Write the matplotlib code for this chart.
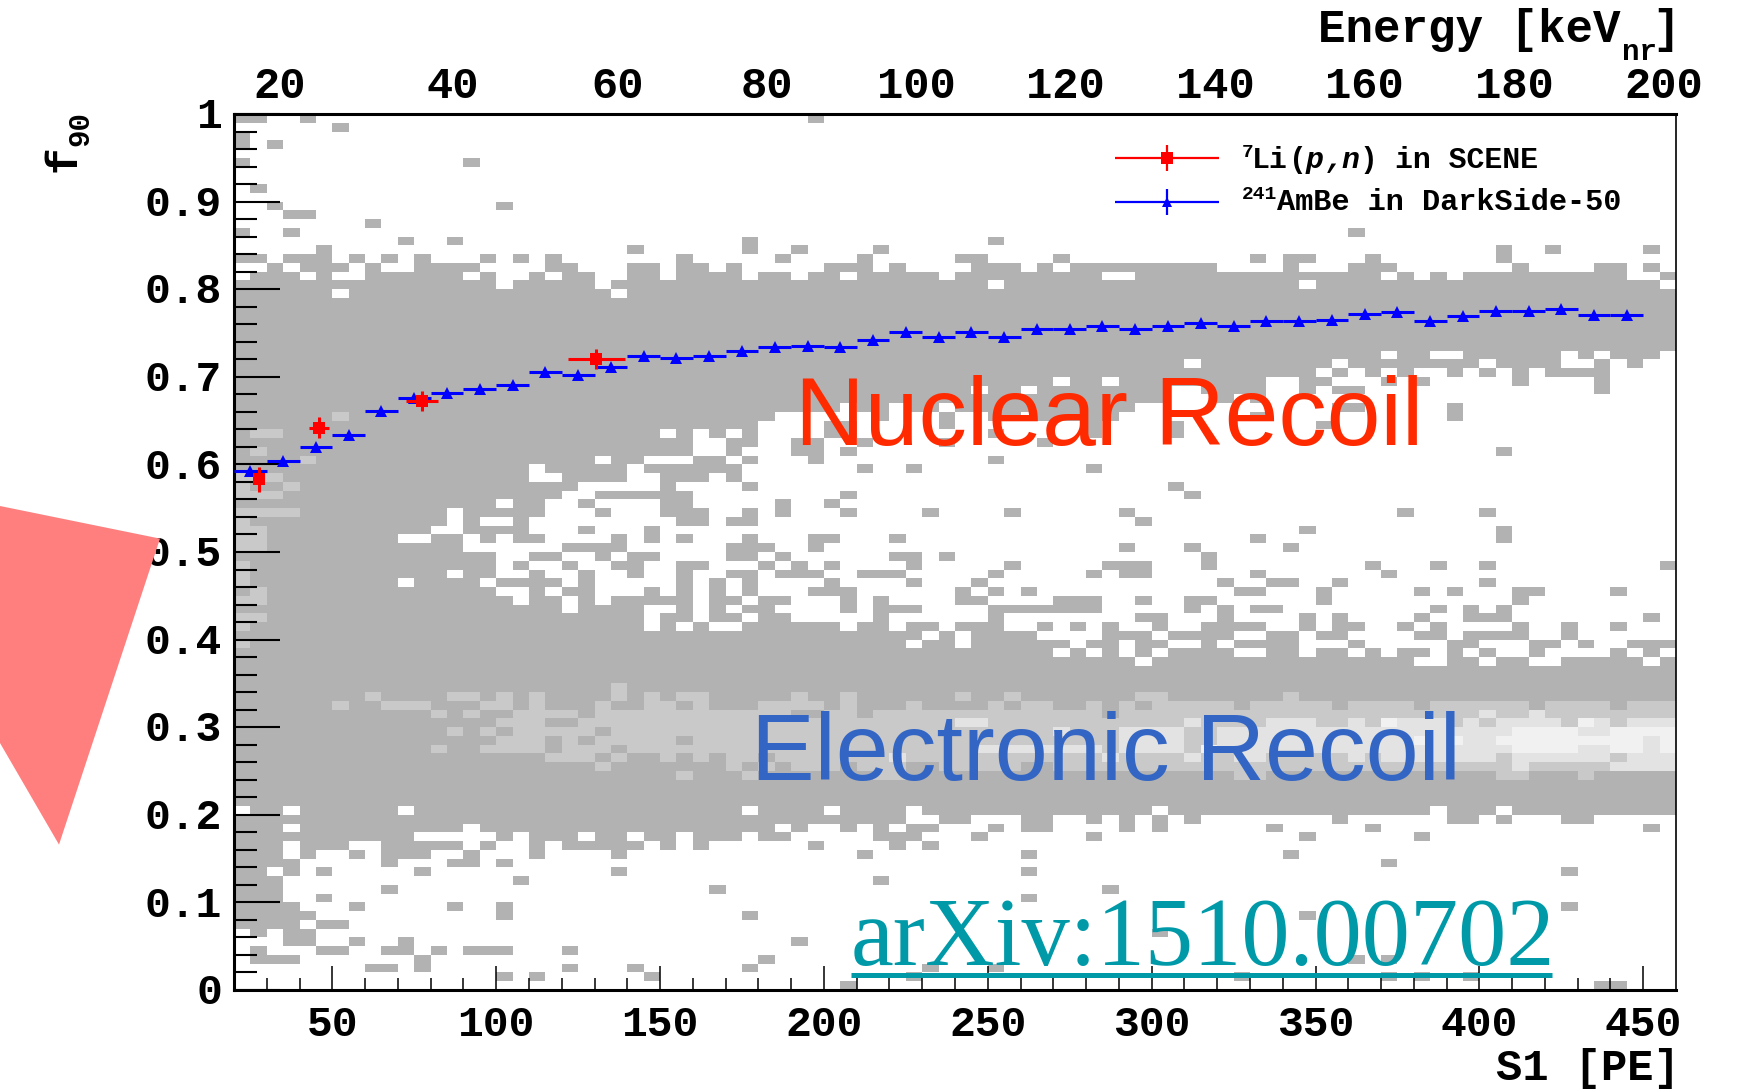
import numpy as np
import matplotlib
matplotlib.use("Agg")
import matplotlib.pyplot as plt
from matplotlib.colors import ListedColormap, BoundaryNorm
from matplotlib.patches import Polygon
from matplotlib.transforms import ScaledTranslation

W, H = 1763, 1092

# binning of the 2D histogram
s1_edges = np.arange(20, 461, 5)
f90_edges = np.linspace(0, 1, 101)

# gray bins, row index = f90 bin, (first, last) = S1 bins
gray_rows = {
    99: [(0,1),(4,4),(35,35)], 98: [(6,6)], 97: [(0,0)], 96: [(0,0),(2,2)], 94: [(0,0),(14,14)],
    91: [(1,1)], 89: [(2,2),(16,16)], 88: [(3,4)], 87: [(8,8)], 86: [(0,0),(3,3),(68,68)],
    85: [(10,10),(13,13),(31,31),(46,46)],
    84: [(5,5),(24,24),(31,31),(34,34),(39,39),(77,77),(80,80),(86,86)],
    83: [(0,1),(3,5),(7,7),(9,9),(11,11),(15,15),(17,17),(19,19),(27,27),(33,33),(38,38),(44,45),(50,50),(62,62),(64,65),(69,69),(77,77)],
    82: [(2,2),(4,6),(8,8),(11,14),(19,20),(24,25),(27,28),(30,30),(36,38),(40,40),(45,47),(49,49),(51,59),(64,64),(68,70),(78,78),(83,84),(86,86)],
    81: [(1,3),(5,5),(8,13),(15,15),(18,18),(20,21),(24,25),(27,30),(32,33),(35,36),(38,42),(44,52),(55,69),(71,71),(73,73),(75,84),(87,87)],
    80: [(0,15),(17,21),(23,45),(47,64),(66,86)],
    65: [(0,32),(39,39),(43,43),(46,47),(49,53),(62,62),(74,74)],
    64: [(0,31),(36,37),(43,43),(52,52),(57,57),(66,66)],
    63: [(0,25),(27,27),(29,29),(31,31),(36,37),(46,46),(52,52),(57,57)],
    62: [(0,27),(30,31),(34,35),(38,38),(43,43),(49,49)],
    61: [(0,27),(30,30),(34,35),(37,37),(77,77)],
    60: [(0,21),(23,24),(28,29),(31,31),(35,35),(46,46)],
    59: [(0,17),(19,23),(25,30),(38,38),(41,41),(52,52)],
    58: [(0,17),(20,23),(26,28),(30,30)],
    57: [(0,20),(26,26),(31,31),(57,57)],
    56: [(0,19),(22,27),(37,37),(58,58)],
    55: [(0,15),(17,18),(21,21),(26,27),(33,33),(36,36)],
    54: [(0,12),(14,18),(22,22),(26,28),(31,31),(33,33),(37,37),(42,42),(47,47),(54,54),(71,71),(76,76)],
    53: [(0,12),(14,14),(17,17),(27,28),(30,31),(55,55)],
    52: [(0,11),(14,17),(21,21),(25,25),(65,65),(77,77)],
    51: [(0,9),(12,13),(15,15),(17,18),(23,23),(25,25),(27,27),(31,31),(35,36),(40,40),(62,62),(77,77)],
    50: [(0,13),(20,23),(30,32),(35,35),(54,54),(58,58),(64,64)],
    49: [(0,15),(18,19),(22,22),(24,25),(30,31),(33,33),(40,41),(43,43),(59,59)],
    48: [(0,15),(17,17),(20,20),(23,24),(27,28),(32,32),(34,34),(36,36),(41,41),(47,47),(53,55),(59,59),(69,69),(73,73),(76,76),(87,87)],
    47: [(0,12),(14,15),(18,18),(21,21),(24,24),(27,27),(30,31),(33,35),(38,40),(46,46),(52,52),(54,55),(62,62),(70,70)],
    46: [(0,9),(11,14),(16,19),(21,21),(27,27),(29,29),(31,31),(36,36),(41,41),(45,45),(60,60),(63,64),(67,67),(76,76)],
    45: [(0,15),(18,18),(20,21),(25,25),(27,27),(29,29),(31,31),(35,37),(44,44),(46,46),(48,48),(61,62),(66,66),(72,72),(74,74),(78,79),(84,84)],
    44: [(0,16),(18,19),(21,21),(23,27),(29,30),(32,33),(37,37),(39,39),(44,45),(50,52),(55,55),(58,59),(66,66),(78,78)],
    43: [(0,19),(21,24),(27,27),(29,29),(31,32),(37,37),(39,41),(46,52),(58,58),(60,60),(62,63),(73,73),(75,75),(77,77)],
    42: [(0,24),(26,27),(29,30),(32,33),(39,39),(46,46),(55,56),(60,60),(65,65),(67,67),(72,72),(75,77),(86,86)],
    41: [(0,24),(26,26),(28,28),(31,36),(38,39),(41,42),(44,46),(49,49),(51,51),(53,53),(56,56),(59,62),(65,65),(67,68),(71,71),(73,73),(78,78),(81,81),(84,84)],
    40: [(0,41),(43,43),(45,48),(53,55),(57,60),(63,64),(66,67),(72,73),(75,78),(81,81)],
    39: [(0,40),(42,43),(45,50),(52,53),(55,56),(59,59),(61,64),(68,68),(74,75),(79,80),(82,82),(85,87)],
    38: [(0,49),(51,51),(53,53),(55,55),(57,60),(63,64),(66,67),(69,69),(71,72),(74,74),(76,76),(79,79),(84,84),(86,86)],
    19: [(0,40),(43,44),(48,49),(52,52),(54,54),(56,56),(58,58),(67,67),(74,75),(77,77),(81,82)],
    18: [(0,2),(4,13),(15,32),(34,34),(37,37),(39,39),(41,42),(46,46),(48,49),(54,54),(56,56),(63,63),(69,69),(86,86)],
    17: [(0,10),(16,16),(18,20),(22,23),(25,26),(28,30),(32,33),(39,41),(45,45),(52,52),(65,65),(72,72)],
    16: [(0,2),(4,6),(9,13),(15,15),(18,18),(20,24),(26,26),(28,28),(35,35),(40,40),(42,42)],
    15: [(0,2),(4,4),(7,7),(9,11),(14,14),(18,18),(23,23),(38,38),(48,48),(64,64)],
    14: [(0,3),(9,9),(13,14),(16,16),(70,70)],
    13: [(0,1),(3,3),(5,5),(11,11),(23,23),(48,48),(81,81)],
    12: [(0,2),(17,17),(39,39)],
    11: [(0,2),(9,9),(29,29),(53,53)],
    10: [(0,2),(5,5),(48,48)],
    9: [(0,3),(7,7),(13,13),(16,16),(81,81)],
    8: [(0,4),(16,16),(31,31),(65,65)],
    7: [(0,3),(5,6)],
    6: [(1,1),(3,4),(56,56)],
    5: [(3,4),(7,7),(10,10),(34,34)],
    4: [(1,1),(5,6),(9,10),(12,12),(14,16),(20,20)],
    3: [(1,3),(11,11),(32,32),(68,68),(70,70)],
    2: [(8,9),(11,11),(20,20),(24,24),(31,31),(42,42),(46,46)],
    1: [(16,16),(18,18),(25,25),(41,41),(61,61),(70,70),(72,72),(75,75)],
    0: [(37,37),(83,84)],
}

# rows that are filled except for a few empty bins
full_rows = list(range(21, 37)) + list(range(73, 79))
holed_rows = {
    79: [(6,6),(23,23)],
    72: [(70,70),(73,74),(81,81),(83,83),(87,87)],
    71: [(58,58),(67,67),(76,76),(81,82),(84,84),(86,87)],
    70: [(66,66),(68,68),(70,70),(72,73),(75,75),(77,77),(79,79),(84,87)],
    69: [(50,50),(53,53),(63,64),(67,69),(71,71),(73,77),(79,82),(84,87)],
    68: [(45,45),(48,48),(57,58),(63,64),(66,66),(69,82),(84,87)],
    67: [(57,59),(61,61),(63,87)],
    66: [(37,37),(40,40),(43,43),(55,66),(69,73),(75,87)],
    37: [(55,55),(72,73),(76,76),(79,80),(86,86)],
    20: [(0,0),(3,3),(10,10),(31,31),(36,36),(41,41),(56,56),(73,73),(77,77)],
}

# lighter bins = more entries
level2_rows = {
    65: [(6,6)], 63: [(1,2)], 61: [(1,1)], 60: [(4,4)], 58: [(0,2)], 57: [(0,0),(3,3)], 56: [(0,2)],
    54: [(0,3)], 53: [(0,0)], 52: [(0,1)], 51: [(0,1)], 50: [(0,1)], 48: [(0,0)], 47: [(0,0)],
    46: [(0,0)], 45: [(1,1)], 44: [(0,1)], 42: [(0,1)], 41: [(0,0)], 39: [(0,0)], 34: [(23,23)],
    33: [(8,8),(13,14),(16,16),(18,18),(23,23),(25,25),(27,28),(34,34),(37,37),(44,44),(47,47),(55,56),(64,64)],
    32: [(6,6),(9,11),(15,16),(18,18),(22,22),(25,26),(28,28),(32,35),(37,37),(41,41),(46,46),(48,49),(52,52),(54,54),(56,60),(62,66),(68,71),(73,78),(80,83),(85,87)],
    31: [(12,12),(14,14),(17,20),(22,33),(36,37),(39,52),(54,87)],
    30: [(16,18),(21,87)],
    29: [(13,13),(15,15),(17,21),(23,87)],
    28: [(16,18),(20,20),(22,26),(28,87)],
    27: [(12,12),(15,18),(20,22),(24,87)],
    26: [(19,21),(23,23),(26,26),(28,28),(30,31),(33,87)],
    25: [(22,22),(30,30),(32,32),(34,36),(38,40),(43,47),(50,87)],
    24: [(27,27),(31,31),(39,40),(61,62),(77,78),(82,82)],
}
level3_rows = {
    31: [(76,76),(79,79)],
    30: [(44,45),(58,58),(63,65),(68,68),(71,73),(75,75),(77,80),(83,83),(85,87)],
    29: [(50,50),(54,57),(60,77),(82,83)],
    28: [(54,57),(60,76),(86,86)],
    27: [(45,52),(54,57),(60,77),(82,83),(86,86)],
    26: [(40,40),(53,53),(58,58),(61,62),(68,68),(70,76),(78,83),(85,87)],
    25: [(78,78),(84,87)],
}
level4_rows = {
    30: [(70,70),(82,82)],
    29: [(78,81),(84,87)],
    28: [(72,72),(74,74),(77,85),(87,87)],
    27: [(59,59),(78,81),(84,85),(87,87)],
}

# 241AmBe in DarkSide-50
ambe_s1 = [25, 35, 45, 55, 65, 75, 85, 95, 105, 115, 125, 135, 145, 155, 165, 175, 185, 195, 205, 215, 225, 235,
           245, 255, 265, 275, 285, 295, 305, 315, 325, 335, 345, 355, 365, 375, 385, 395, 405, 415, 425, 435, 445]
ambe_f90 = [0.593, 0.604, 0.620, 0.634, 0.661, 0.676, 0.682, 0.686, 0.691, 0.705, 0.702, 0.711, 0.724, 0.721,
            0.724, 0.729, 0.734, 0.735, 0.734, 0.742, 0.751, 0.746, 0.751, 0.745, 0.754, 0.754, 0.758, 0.755,
            0.758, 0.761, 0.758, 0.764, 0.764, 0.765, 0.772, 0.774, 0.764, 0.769, 0.775, 0.775, 0.777, 0.770, 0.770]

# 7Li(p,n) in SCENE
scene_s1 = [27.7, 46, 77.4, 130.6]
scene_f90 = [0.583, 0.642, 0.672, 0.720]
scene_s1_err = [1.0, 3.0, 4.9, 8.7]
scene_f90_err = [0.014, 0.0116, 0.0115, 0.0116]

# top axis is not linear in S1
kev_scale = [13, 15, 20, 25, 30, 35, 40, 45, 50, 55, 60, 65, 70, 75, 80, 200, 201.4]
s1_scale = [20, 24, 34, 45.2, 58.7, 74, 86.8, 99.3, 111.8, 124.6, 137, 148.4, 160, 171.2, 182.5, 456.3, 460]

hist_colors = ["white", "#b2b2b2", "#c9c9c9", "#e3e3e3", "#f1f1f1"]

MONO = "Liberation Mono"


def build_hist():
    z = np.zeros((len(f90_edges) - 1, len(s1_edges) - 1))
    for r in full_rows:
        z[r, :] = 1
    for r, holes in holed_rows.items():
        z[r, :] = 1
        for a, b in holes:
            z[r, a:b + 1] = 0
    for r, runs in gray_rows.items():
        for a, b in runs:
            z[r, a:b + 1] = 1
    for level, rows in ((2, level2_rows), (3, level3_rows), (4, level4_rows)):
        for r, runs in rows.items():
            for a, b in runs:
                z[r, a:b + 1] = level
    return z


def s1_to_kev(x):
    return np.interp(x, s1_scale, kev_scale)


def kev_to_s1(x):
    return np.interp(x, kev_scale, s1_scale)


fig = plt.figure(figsize=(W / 100, H / 100), dpi=100)
ax = fig.add_axes([234 / W, 1 - 990 / H, (1676 - 234) / W, (990 - 114) / H])

cmap = ListedColormap(hist_colors)
norm = BoundaryNorm(np.arange(-0.5, 5), cmap.N)
ax.pcolormesh(s1_edges, f90_edges, build_hist(), cmap=cmap, norm=norm, linewidth=0, rasterized=True)

ax.errorbar(ambe_s1, ambe_f90, xerr=5, yerr=0.002, fmt="^", color="#0000ff", ms=8.6, mew=0,
            elinewidth=2.2, capsize=2, capthick=2, zorder=3)
ax.errorbar(scene_s1, scene_f90, xerr=scene_s1_err, yerr=scene_f90_err, fmt="s", color="#ff0000", ms=8.2, mew=0,
            elinewidth=2.2, capsize=2, capthick=2, zorder=4)

ax.set_xlim(20, 460)
ax.set_ylim(0, 1)
ax.set_xticks(np.arange(50, 451, 50))
ax.set_xticks(np.arange(30, 451, 10), minor=True)
ax.set_yticks(np.arange(0, 1.01, 0.1))
ax.set_yticklabels(["0", "0.1", "0.2", "0.3", "0.4", "0.5", "0.6", "0.7", "0.8", "0.9", "1"])
ax.set_yticks(np.arange(0, 1.0, 0.02), minor=True)
ax.tick_params(axis="x", which="major", direction="in", length=17, width=1.1, pad=10.5)
ax.tick_params(axis="x", which="minor", direction="in", length=8.5, width=1.1)
ax.tick_params(axis="y", which="major", direction="in", length=33, width=1.5, pad=8.5)
ax.tick_params(axis="y", which="minor", direction="in", length=16.5, width=1.5)
for lab in ax.get_xticklabels() + ax.get_yticklabels():
    lab.set_family(MONO)
    lab.set_weight("bold")
    lab.set_size(31)
# the y labels sit slightly above their ticks
for lab in ax.get_yticklabels():
    lab.set_transform(lab.get_transform() + ScaledTranslation(0, 1 / 72, fig.dpi_scale_trans))
ax.spines["left"].set_linewidth(2.2)
ax.spines["bottom"].set_linewidth(2.2)
ax.spines["top"].set_linewidth(2.2)
ax.spines["right"].set_linewidth(1.2)

top = ax.secondary_xaxis("top", functions=(s1_to_kev, kev_to_s1))
top.set_xticks(np.arange(20, 201, 20))
top.set_xticks(np.arange(15, 200, 5), minor=True)
top.tick_params(axis="x", which="major", direction="in", length=17.5, width=0.9, pad=5)
top.tick_params(axis="x", which="minor", direction="in", length=8.5, width=0.9)
for lab in top.get_xticklabels():
    lab.set_family(MONO)
    lab.set_weight("bold")
    lab.set_size(31.5)

# overlay in pixels of the picture, for the labels and the pasted-on notes
over = fig.add_axes([0, 0, 1, 1], facecolor="none")
over.set_xlim(0, W)
over.set_ylim(H, 0)
over.axis("off")


def mono(x, y, s, size, **kw):
    kw.setdefault("weight", "bold")
    over.text(x, y, s, family=MONO, fontsize=size, va="baseline", **kw)


# axis titles
mono(1620, 42, "Energy [keV", 33, ha="right")
mono(1622, 60, "nr", 21)
mono(1680, 42, "]", 33, ha="right")
mono(1680, 1080, "S1 [PE]", 31.5, ha="right")
mono(76, 172, "f", 32, rotation=90, rotation_mode="anchor")
mono(88, 146, "90", 21, rotation=90, rotation_mode="anchor")

# legend
over.errorbar([1166.5], [158], xerr=52, yerr=13, fmt="s", color="#ff0000", ms=8.2, mew=0, elinewidth=1.6)
over.errorbar([1166.5], [202], xerr=52, yerr=13, fmt="^", color="#0000ff", ms=7, mew=0, elinewidth=1.6)
mono(1242, 157, "7", 14)
mono(1252, 168, "Li", 21.5)
mono(1289, 168, "(", 21.5)
mono(1306, 168, "p", 21.5, style="italic")
mono(1326, 168, ",", 21.5, style="italic")
mono(1341, 168, "n", 21.5, style="italic")
mono(1360, 168, ")", 21.5)
mono(1395, 168, "in SCENE", 21.5)
mono(1242, 199, "241", 14)
mono(1277, 210, "AmBe in DarkSide-50", 21.8)

# notes pasted on the plot
over.text(795, 445, "Nuclear Recoil", family="Liberation Sans", fontsize=69.6, color="#ff2a00", va="baseline")
over.text(751, 780, "Electronic Recoil", family="Liberation Sans", fontsize=68.7, color="#3366c4", va="baseline")
over.text(851, 965, "arXiv:1510.00702", family="Liberation Serif", fontsize=69.5, color="#0099a8", va="baseline")
over.plot([851, 1552], [974.5, 974.5], color="#0099a8", lw=3.6, solid_capstyle="butt")

over.add_patch(Polygon([(0, 506), (160, 538.6), (59, 844.6), (0, 743)], closed=True, facecolor="#ff7f7f",
                       edgecolor="none", zorder=20, clip_on=False))

fig.savefig("out.png", dpi=100)
